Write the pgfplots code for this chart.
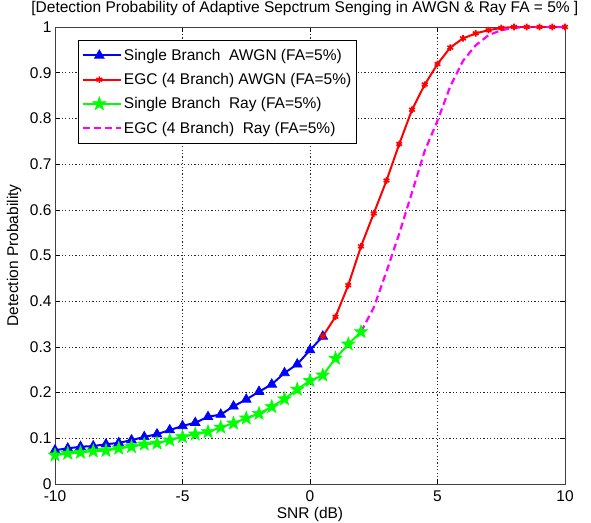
\documentclass[border=0pt]{standalone}
\usepackage{pgfplots}
\pgfplotsset{compat=1.18}
\usepackage{fontspec}
\setmainfont{Liberation Sans}
\definecolor{mag}{RGB}{255,0,255}
\definecolor{grn}{RGB}{0,255,0}
\definecolor{blu}{RGB}{0,0,255}
\definecolor{rd}{RGB}{255,0,0}
\pgfdeclareplotmark{pentagram}{%
 \pgfpathmoveto{\pgfpointpolar{90}{\pgfplotmarksize}}%
 \pgfpathlineto{\pgfpointpolar{126}{0.40\pgfplotmarksize}}%
 \pgfpathlineto{\pgfpointpolar{162}{\pgfplotmarksize}}%
 \pgfpathlineto{\pgfpointpolar{198}{0.40\pgfplotmarksize}}%
 \pgfpathlineto{\pgfpointpolar{234}{\pgfplotmarksize}}%
 \pgfpathlineto{\pgfpointpolar{270}{0.40\pgfplotmarksize}}%
 \pgfpathlineto{\pgfpointpolar{306}{\pgfplotmarksize}}%
 \pgfpathlineto{\pgfpointpolar{342}{0.40\pgfplotmarksize}}%
 \pgfpathlineto{\pgfpointpolar{18}{\pgfplotmarksize}}%
 \pgfpathlineto{\pgfpointpolar{54}{0.40\pgfplotmarksize}}%
 \pgfpathclose
 \pgfusepathqfillstroke
}
\newcommand{\ff}{\fontsize{15.5pt}{18pt}\selectfont}
\begin{document}
\begin{tikzpicture}[font=\ff]
\begin{axis}[
  name=ax,
  scale only axis,
  width=510pt, height=457pt,
  xmin=-10, xmax=10, ymin=0, ymax=1,
  xtick={-10,-5,0,5,10},
  ytick={0,0.1,0.2,0.3,0.4,0.5,0.6,0.7,0.8,0.9,1},
  /pgf/number format/assume math mode=true,
  tick label style={font=\ff},
  xticklabel style={yshift=-3.5pt},
  tick align=inside,
  major tick length=5pt,
  tick style={black, line width=0.5pt},
  axis line style={black!75, line width=0.8pt},
  grid=major,
  major grid style={dash pattern=on 1.2pt off 2.2pt, black!85, line width=0.5pt},
  title={[Detection Probability of Adaptive Sepctrum Senging in AWGN \& Ray FA = 5\% ]},
  title style={font=\ff, at={(axis description cs:0.49,1)}, anchor=south, yshift=2pt},
  xlabel={SNR (dB)},
  ylabel={Detection Probability},
  label style={font=\ff},
  xlabel style={at={(axis description cs:0.5,0)}, anchor=center, yshift=-30pt},
  ylabel style={at={(axis description cs:-0.08,0.5)}, anchor=center},
  legend style={font=\ff, at={(axis description cs:0.045,0.972)}, anchor=north west,
    draw=black, line width=0.6pt, fill=white, inner xsep=3.5pt, inner ysep=7pt,
    row sep=7.5pt, cells={anchor=west}},
  legend image code/.code={\draw[mark repeat=2,mark phase=2] plot coordinates {(0pt,0pt)(16.5pt,0pt)(33pt,0pt)};
    \path (0pt,0pt) -- (38pt,0pt);},
]
\addplot[blu, line width=2pt, mark=triangle*, mark size=5.5pt, mark options={solid, line width=0.8pt}] coordinates {
(-10,0.074) (-9.5,0.078) (-9,0.0815) (-8.5,0.083) (-8,0.087) (-7.5,0.090)
(-7,0.096) (-6.5,0.103) (-6,0.109) (-5.5,0.118) (-5,0.127) (-4.5,0.134)
(-4,0.147) (-3.5,0.152) (-3,0.170) (-2.5,0.185) (-2,0.202) (-1.5,0.218)
(-1,0.243) (-0.5,0.262) (0,0.293) (0.5,0.323)};
\addlegendentry{Single Branch\ \ AWGN (FA=5\%)}
\addplot[rd, line width=2pt, mark=asterisk, mark size=3.3pt, mark options={solid, line width=1.6pt}] coordinates {
(0.5,0.323) (1,0.366) (1.5,0.435) (2,0.52) (2.5,0.592) (3,0.664) (3.5,0.744)
(4,0.819) (4.5,0.874) (5,0.919) (5.5,0.955) (6,0.975) (6.5,0.986) (7,0.993)
(7.5,0.998) (8,1) (8.5,1) (9,1) (9.5,1) (10,1)};
\addlegendentry{EGC (4 Branch) AWGN (FA=5\%)}
\addplot[grn, line width=2pt, mark=pentagram, mark size=7pt, mark options={solid, line width=0.6pt}] coordinates {
(-10,0.063) (-9.5,0.067) (-9,0.069) (-8.5,0.072) (-8,0.073) (-7.5,0.078)
(-7,0.0815) (-6.5,0.087) (-6,0.089) (-5.5,0.096) (-5,0.103) (-4.5,0.109)
(-4,0.114) (-3.5,0.124) (-3,0.133) (-2.5,0.144) (-2,0.154) (-1.5,0.169)
(-1,0.186) (-0.5,0.207) (0,0.226) (0.5,0.238) (1,0.275) (1.5,0.306) (2,0.333)};
\addlegendentry{Single Branch\ \ Ray (FA=5\%)}
\addplot[mag, line width=2.2pt, dash pattern=on 7pt off 4pt, no marks] coordinates {
(2,0.333) (2.5,0.386) (3,0.465) (3.5,0.548) (4,0.638) (4.5,0.729) (5,0.795)
(5.5,0.87) (6,0.926) (6.5,0.96) (7,0.982) (7.5,0.993) (8,0.998) (8.5,1)
(9,1) (9.5,1) (10,1)};
\addlegendentry{EGC (4 Branch)\ \ Ray (FA=5\%)}
\end{axis}
\pgfresetboundingbox
\path[use as bounding box] ([shift={(-55pt,-38pt)}]ax.south west) rectangle ([shift={(26pt,27pt)}]ax.north east);
\end{tikzpicture}
\end{document}
